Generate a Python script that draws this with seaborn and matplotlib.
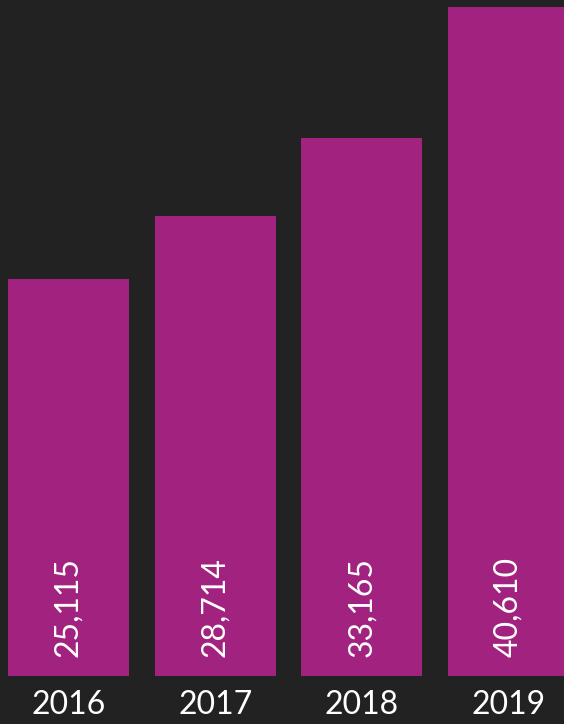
import matplotlib
matplotlib.use("Agg")
import matplotlib.pyplot as plt
import pandas as pd
import seaborn as sns

years = ["2016", "2017", "2018", "2019"]
counts = [25115, 28714, 33165, 40610]

BG = "#222222"
BAR = "#A2237F"


def main():
    df = pd.DataFrame({"year": years, "count": counts})

    sns.set_theme(style="dark")
    plt.rcParams["font.family"] = ["Lato", "DejaVu Sans"]

    fig = plt.figure(figsize=(5.64, 7.24), dpi=100, facecolor=BG)
    ax = fig.add_axes([0, 48 / 724, 1, 676 / 724])
    ax.set_facecolor(BG)

    sns.barplot(data=df, x="year", y="count", color=BAR, saturation=1,
                width=0.825, linewidth=0, ax=ax)

    ax.set_xlim(-0.467, 3.378)
    ax.set_ylim(2500, 41010)
    ax.set_xlabel("")
    ax.set_ylabel("")
    ax.set_yticks([])
    ax.tick_params(axis="x", length=0, pad=10, labelsize=23, colors="white")
    for s in ax.spines.values():
        s.set_visible(False)
    ax.grid(False)

    for i, v in enumerate(counts):
        ax.annotate(f"{v:,}", xy=(i, 2500), xytext=(0, 14),
                    textcoords="offset points", rotation=90,
                    ha="center", va="bottom", color="white", fontsize=23)

    fig.savefig("out.png", dpi=100, facecolor=BG)


if __name__ == "__main__":
    main()
